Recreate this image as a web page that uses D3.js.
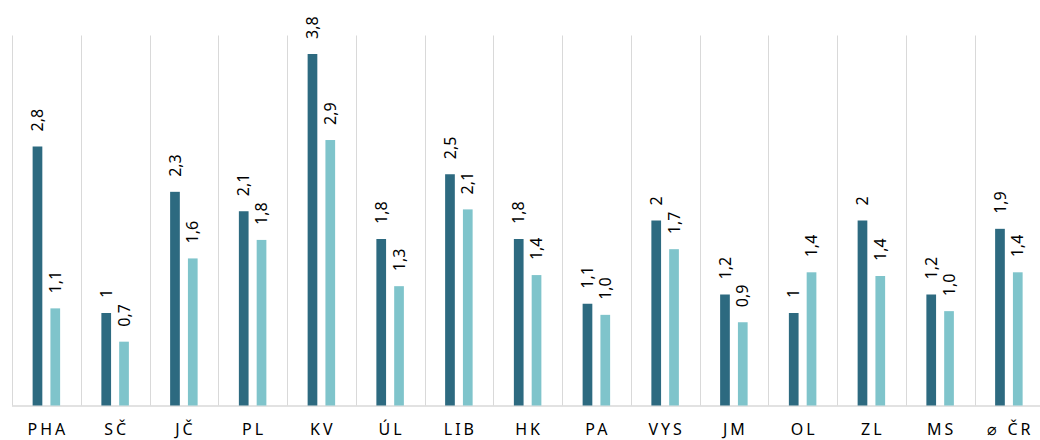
<!DOCTYPE html>
<html>
<head>
<meta charset="utf-8">
<script src="https://cdn.jsdelivr.net/npm/d3@7"></script>
<style>
body { margin:0; background:#fff; }
text { font-family: "Noto Sans", sans-serif; fill:#000; }
</style>
</head>
<body>
<svg id="chart"></svg>
<script>
// data
var categories = ["PHA", "SČ", "JČ", "PL", "KV", "ÚL", "LIB", "HK", "PA", "VYS", "JM", "OL", "ZL", "MS", "⌀ ČR"];
var series1 = [2.8, 1, 2.31, 2.1, 3.8, 1.8, 2.5, 1.8, 1.1, 2, 1.2, 1, 2, 1.2, 1.91];
var series2 = [1.05, 0.69, 1.59, 1.79, 2.87, 1.29, 2.12, 1.41, 0.98, 1.69, 0.9, 1.44, 1.4, 1.02, 1.44];
var labels1 = ["2,8", "1", "2,3", "2,1", "3,8", "1,8", "2,5", "1,8", "1,1", "2", "1,2", "1", "2", "1,2", "1,9"];
var labels2 = ["1,1", "0,7", "1,6", "1,8", "2,9", "1,3", "2,1", "1,4", "1,0", "1,7", "0,9", "1,4", "1,4", "1,0", "1,4"];
var colors = ["#2d6a80", "#7fc4cb"];

var svgWidth = 1040, svgHeight = 440;
var left = 12, bandW = 68.75, baseY = 405.5, topY = 35.5;

var svg = d3.select('#chart')
            .attr("width", svgWidth)
            .attr("height", svgHeight);

var xScale = d3.scaleBand()
               .domain(categories)
               .range([left, left + bandW * categories.length])
               .padding(0);

var yScale = d3.scaleLinear()
               .domain([0, 4])
               .range([baseY, topY]);

var barW = 9.7, offset = 8.9;

// vertical gridlines
svg.selectAll("line.grid")
   .data(categories)
   .enter()
   .append("line")
   .attr("class", "grid")
   .attr("x1", function(d){ return Math.round(xScale(d)) + 0.5; })
   .attr("x2", function(d){ return Math.round(xScale(d)) + 0.5; })
   .attr("y1", yScale(4))
   .attr("y2", baseY)
   .attr("stroke", "#d9d9d9")
   .attr("stroke-width", 1);

// baseline
svg.append("line")
   .attr("x1", left)
   .attr("x2", svgWidth)
   .attr("y1", baseY + 0.5)
   .attr("y2", baseY + 0.5)
   .attr("stroke", "#d9d9d9")
   .attr("stroke-width", 1.5);

var all = [series1, series2];
var allLabels = [labels1, labels2];

all.forEach(function(series, s){
    var dx = s === 0 ? -offset : offset;
    svg.selectAll("rect.s" + s)
       .data(series)
       .enter()
       .append("rect")
       .attr("class", "s" + s)
       .attr("x", function(d, i){ return xScale(categories[i]) + bandW / 2 + dx - barW / 2; })
       .attr("y", function(d){ return yScale(d); })
       .attr("width", barW)
       .attr("height", function(d){ return baseY - yScale(d); })
       .attr("fill", colors[s]);

    svg.selectAll("text.l" + s)
       .data(series)
       .enter()
       .append("text")
       .attr("class", "l" + s)
       .attr("transform", function(d, i){
           var x = xScale(categories[i]) + bandW / 2 + dx;
           var y = yScale(d) - 15;
           return "translate(" + x + "," + y + ") rotate(-90)";
       })
       .attr("dy", "0.35em")
       .attr("font-size", "16px")
       .text(function(d, i){ return allLabels[s][i]; });
});

// category labels
svg.selectAll("text.cat")
   .data(categories)
   .enter()
   .append("text")
   .attr("class", "cat")
   .attr("x", function(d){ return xScale(d) + bandW / 2 + 1.5; })
   .attr("y", 435)
   .attr("text-anchor", "middle")
   .attr("font-size", "16px")
   .attr("letter-spacing", "3px")
   .text(function(d){ return d; });
</script>
</body>
</html>
